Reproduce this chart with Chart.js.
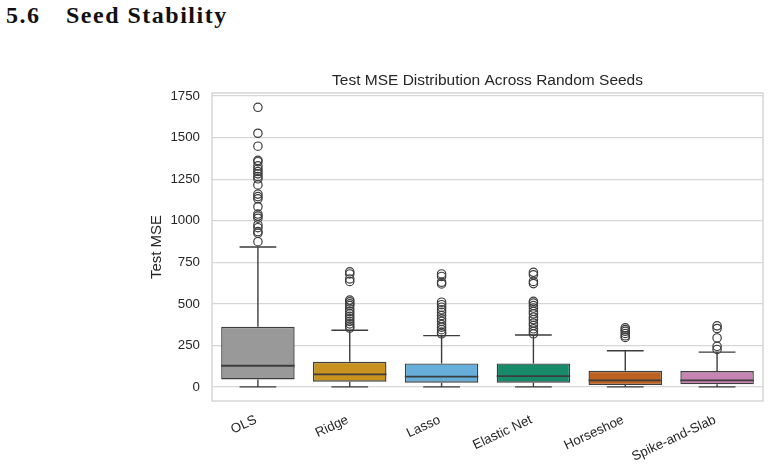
<!DOCTYPE html>
<html>
<head>
<meta charset="utf-8">
<script src="https://cdn.jsdelivr.net/npm/chart.js@4"></script>
<style>
  html, body { margin: 0; padding: 0; background: #fff; }
  #wrap { position: relative; width: 771px; height: 469px; }
  .sec { position: absolute; top: 2px; font-family: "Liberation Serif", "DejaVu Serif", serif; font-weight: bold; font-size: 24px; letter-spacing: 1.5px; color: #111; }
  canvas { position: absolute; left: 0; top: 0; }
</style>
</head>
<body>
<div id="wrap">
  <div class="sec" style="left:6px">5.6</div>
  <div class="sec" style="left:66px">Seed Stability</div>
  <canvas id="box_chart" width="771" height="469"></canvas>
</div>
<script>
// models on the x axis
const models = ["OLS", "Ridge", "Lasso", "Elastic Net", "Horseshoe", "Spike-and-Slab"];
const y_ticks = [0, 250, 500, 750, 1000, 1250, 1500, 1750];

// box statistics
const whisker_low = [1, 1, 1, 1, 1, 1];
const q1 = [46, 32, 26, 26, 12, 16];
const median = [128, 76, 62, 66, 40, 40];
const q3 = [362, 152, 142, 142, 98, 96];
const whisker_high = [842, 341, 309, 313, 218, 210];

// fliers for each model
const ols_out = [1682, 1526, 1448, 1363, 1355, 1330, 1312, 1296, 1282, 1266, 1252, 1215, 1160, 1145, 1132, 1084, 1040, 1028, 1015, 975, 958, 935, 925, 874];
const ridge_out = [693, 680, 650, 635, 523, 512, 500, 490, 470, 455, 440, 425, 410, 395, 380, 366, 355];
const lasso_out = [680, 665, 630, 620, 510, 495, 480, 465, 450, 430, 410, 395, 375, 360, 345, 330, 320];
const enet_out = [690, 675, 635, 622, 515, 505, 490, 475, 455, 440, 420, 405, 385, 370, 350, 335, 320];
const horse_out = [356, 345, 335, 322, 308, 298];
const spike_out = [368, 352, 295, 245, 226];

const colors = ["#999999", "#C9921F", "#65AEDA", "#178A6A", "#BD6121", "#C584B2"];
const edge = "#3d3d3d";

const all_out = [ols_out, ridge_out, lasso_out, enet_out, horse_out, spike_out];
let flier_points = [];
all_out.forEach((list, i) => {
	list.forEach(v => flier_points.push({x: models[i], y: v}));
});

// frame, whiskers + medians, drawn from the bar elements and the y scale
const boxParts = {
	id: "boxParts",
	beforeDraw(chart) {
		const a = chart.chartArea, c = chart.ctx;
		c.save();
		c.strokeStyle = "#cccccc";
		c.lineWidth = 1.2;
		c.strokeRect(a.left, a.top, a.right - a.left, a.bottom - a.top);
		c.restore();
	},
	afterDatasetDraw(chart, args) {
		if (args.index !== 1) return;
		const c = chart.ctx;
		const y = chart.scales.y;
		const meta = chart.getDatasetMeta(1);
		c.save();
		c.strokeStyle = edge;
		meta.data.forEach((bar, i) => {
			const x = bar.x, w = bar.width;
			c.lineWidth = 1.4;
			c.beginPath();
			c.moveTo(x, y.getPixelForValue(q3[i]));
			c.lineTo(x, y.getPixelForValue(whisker_high[i]));
			c.moveTo(x, y.getPixelForValue(q1[i]));
			c.lineTo(x, y.getPixelForValue(whisker_low[i]));
			c.moveTo(x - w / 4, y.getPixelForValue(whisker_high[i]));
			c.lineTo(x + w / 4, y.getPixelForValue(whisker_high[i]));
			c.moveTo(x - w / 4, y.getPixelForValue(whisker_low[i]));
			c.lineTo(x + w / 4, y.getPixelForValue(whisker_low[i]));
			c.stroke();
			c.lineWidth = 1.8;
			c.beginPath();
			c.moveTo(x - w / 2, y.getPixelForValue(median[i]));
			c.lineTo(x + w / 2, y.getPixelForValue(median[i]));
			c.stroke();
		});
		c.restore();
	}
};

const ctx = document.getElementById("box_chart").getContext("2d");
Chart.defaults.font.family = "'Liberation Sans', Arial, sans-serif";
Chart.defaults.color = "#262626";

const my_chart = new Chart(ctx, {
	type: "bar",
	data: {
		labels: models,
		datasets: [{
			type: "scatter",
			data: flier_points,
			pointRadius: 4.2,
			pointBorderWidth: 1.2,
			pointBorderColor: edge,
			pointBackgroundColor: "rgba(0,0,0,0)"
		},
		{
			data: models.map((m, i) => [q1[i], q3[i]]),
			backgroundColor: colors,
			borderColor: edge,
			borderWidth: 1.4,
			borderSkipped: false,
			barPercentage: 0.8,
			categoryPercentage: 1
		}]
	},
	options: {
		responsive: false,
		animation: false,
		events: [],
		layout: { padding: { left: 140, right: 8, top: 67, bottom: 0 } },
		plugins: {
			legend: { display: false },
			tooltip: { enabled: false },
			title: {
				display: true,
				text: "Test MSE Distribution Across Random Seeds",
				fullSize: false,
				color: "#262626",
				font: { size: 15.5, weight: "normal" },
				padding: { top: 4, bottom: 3.4 }
			}
		},
		scales: {
			x: {
				grid: { display: false, drawTicks: false },
				border: { display: false },
				afterFit: scale => { scale.height = 68; },
				ticks: {
					minRotation: 25,
					maxRotation: 25,
					padding: 11,
					labelOffset: -2,
					font: { size: 13.3 }
				}
			},
			y: {
				min: -84,
				max: 1768,
				grid: { color: "#d6d6d6", lineWidth: 1.2, drawTicks: false },
				border: { display: false },
				afterBuildTicks: scale => { scale.ticks = y_ticks.map(v => ({value: v})); },
				afterFit: scale => { scale.width = 72; },
				ticks: { padding: 12, font: { size: 13.3 }, callback: v => String(v) },
				title: {
					display: true,
					text: "Test MSE",
					font: { size: 15 },
					padding: { top: 8, bottom: 0 }
				}
			}
		}
	},
	plugins: [boxParts]
});
</script>
</body>
</html>
